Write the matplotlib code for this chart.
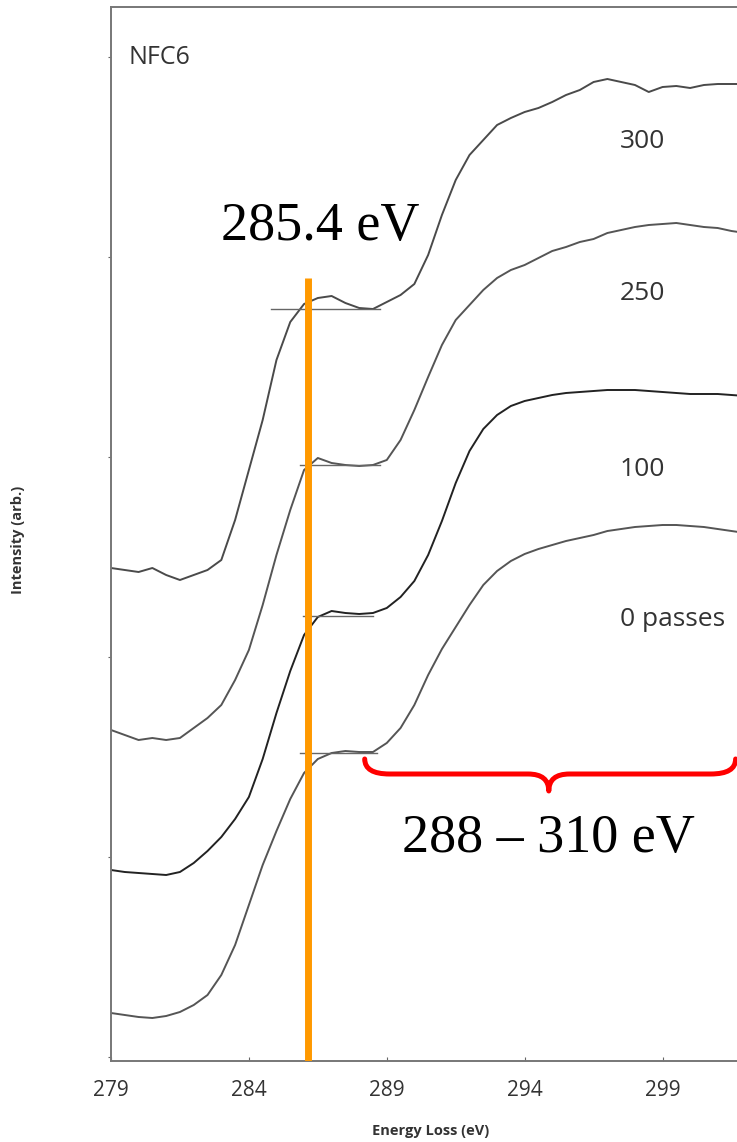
import numpy as np
import matplotlib
matplotlib.use('Agg')
import matplotlib.pyplot as plt
from matplotlib.path import Path
from matplotlib.patches import PathPatch

# energy loss grid (eV) and four spectra (arb. units)
energy = np.arange(279.0, 302.01, 0.5)

passes_0 = [0.22, 0.21, 0.20, 0.195, 0.205, 0.225, 0.26, 0.31, 0.41, 0.56,
            0.76, 0.96, 1.13, 1.29, 1.42, 1.49, 1.52, 1.53, 1.525, 1.525,
            1.57, 1.645, 1.76, 1.91, 2.04, 2.15, 2.26, 2.36, 2.43, 2.48,
            2.515, 2.54, 2.56, 2.58, 2.595, 2.61, 2.63, 2.64, 2.65, 2.655,
            2.66, 2.66, 2.655, 2.65, 2.64, 2.63, 2.62]

passes_100 = [0.935, 0.925, 0.92, 0.915, 0.91, 0.925, 0.97, 1.03, 1.10, 1.19,
              1.30, 1.49, 1.72, 1.93, 2.11, 2.20, 2.23, 2.22, 2.215, 2.22,
              2.245, 2.30, 2.38, 2.51, 2.68, 2.87, 3.03, 3.14, 3.21, 3.255,
              3.28, 3.295, 3.31, 3.32, 3.325, 3.33, 3.335, 3.335, 3.335, 3.33,
              3.325, 3.32, 3.315, 3.315, 3.315, 3.31, 3.305]

passes_250 = [1.635, 1.61, 1.585, 1.595, 1.585, 1.595, 1.645, 1.695, 1.76, 1.885,
              2.035, 2.26, 2.51, 2.735, 2.935, 2.995, 2.97, 2.96, 2.955, 2.96,
              2.985, 3.085, 3.235, 3.40, 3.56, 3.685, 3.76, 3.835, 3.895, 3.935,
              3.96, 3.995, 4.03, 4.05, 4.075, 4.09, 4.12, 4.135, 4.15, 4.16,
              4.165, 4.17, 4.16, 4.15, 4.145, 4.13, 4.12]

passes_300 = [2.445, 2.435, 2.425, 2.445, 2.41, 2.385, 2.41, 2.435, 2.485, 2.685,
              2.935, 3.185, 3.485, 3.675, 3.765, 3.795, 3.805, 3.77, 3.745, 3.74,
              3.775, 3.81, 3.865, 4.01, 4.21, 4.385, 4.51, 4.585, 4.66, 4.695,
              4.725, 4.745, 4.775, 4.81, 4.835, 4.875, 4.89, 4.875, 4.86, 4.825,
              4.85, 4.855, 4.845, 4.86, 4.865, 4.865, 4.865]

labels = ['0 passes', '100', '250', '300']
label_y = [2.185, 2.935, 3.82, 4.575]
line_colors = ['#555555', '#222222', '#555555', '#4a4a4a']

# short horizontal guide lines on the first plateau: (level, start, end)
guide_level = [1.52, 2.205, 2.96, 3.74]
guide_start = [285.85, 285.95, 285.85, 284.8]
guide_end = [288.65, 288.5, 288.75, 288.75]

xticks = [279, 284, 289, 294, 299]
peak_e = 286.15
brace_start, brace_end = 288.2, 301.65

fig = plt.figure(figsize=(7.37, 11.42), dpi=100)
ax = fig.add_axes([111/737, 81/1142, 626/737, 1054/1142])

series = [passes_0, passes_100, passes_250, passes_300]
for s, c in zip(series, line_colors):
    ax.plot(energy, s, color=c, lw=1.4)
for lv, a, b in zip(guide_level, guide_start, guide_end):
    ax.plot([a, b], [lv, lv], color='#666666', lw=1.0)
for lab, ly in zip(labels, label_y):
    ax.text(297.44, ly, lab, fontsize=19, family='Open Sans', color='#333333',
            ha='left', va='center')

ax.text(279.62, 5.06, 'NFC6', fontsize=18, family='Open Sans', color='#333333',
        ha='left', va='top')

ax.set_xlim(279, 301.7)
ax.set_ylim(-0.02, 5.25)
ax.set_xticks(xticks)
ax.set_yticks(range(6))
ax.set_yticklabels([])
ax.tick_params(axis='x', direction='in', length=3, width=0.8, pad=14,
               labelsize=15, labelcolor='#333333', color='#666666')
for t in ax.get_xticklabels():
    t.set_family('Open Sans')
ax.tick_params(axis='y', direction='out', length=2, width=0.8, color='#666666')
for sp in ['left', 'bottom', 'top']:
    ax.spines[sp].set_color('#777777')
    ax.spines[sp].set_linewidth(1.4)
ax.spines['right'].set_visible(False)

ax.set_xlabel('Energy Loss (eV)', fontsize=10.5, fontweight='bold',
              family='Open Sans', color='#333333')
ax.xaxis.set_label_coords(0.511, -0.06)
ax.set_ylabel('Intensity (arb.)', fontsize=10.5, fontweight='bold',
              family='Open Sans', color='#333333')
ax.yaxis.set_label_coords(-0.137, 0.494)

# orange marker at the pi* peak
ax.plot([peak_e, peak_e], [-0.02, 3.895], color='#FF9900', lw=5,
        solid_capstyle='butt', zorder=5)
ax.text(286.57, 4.085, '285.4 eV', fontsize=39, family='Liberation Serif',
        ha='center', va='baseline')

# red curly brace for the sigma* region
ytop, yflat, ytip = 1.49, 1.415, 1.33
xc = (brace_start + brace_end) / 2 - 0.05
verts = [(brace_start, ytop), (brace_start, yflat), (brace_start + 0.9, yflat),
         (xc - 0.75, yflat),
         (xc, yflat), (xc, ytip),
         (xc, yflat), (xc + 0.75, yflat),
         (brace_end - 0.9, yflat),
         (brace_end, yflat), (brace_end, ytop)]
codes = [Path.MOVETO, Path.CURVE3, Path.CURVE3, Path.LINETO,
         Path.CURVE3, Path.CURVE3, Path.CURVE3, Path.CURVE3,
         Path.LINETO, Path.CURVE3, Path.CURVE3]
ax.add_patch(PathPatch(Path(verts, codes), fill=False, edgecolor='#FF0000',
                       lw=3.6, capstyle='round', joinstyle='round', zorder=5))
ax.text(xc, 1.025, '288 – 310 eV', fontsize=39, family='Liberation Serif',
        ha='center', va='baseline')

fig.savefig('out.png', dpi=100)
